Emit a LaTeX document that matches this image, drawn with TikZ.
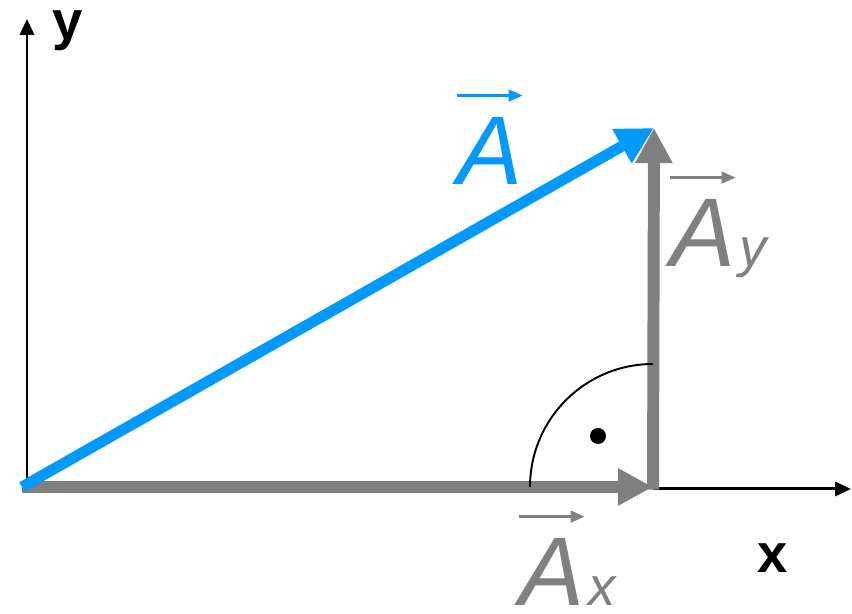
\documentclass[tikz,border=0pt]{standalone}
\usepackage{fontspec}
\setmainfont{Liberation Sans}
\usetikzlibrary{arrows.meta}
\definecolor{vblue}{HTML}{0099FF}
\definecolor{vgray}{HTML}{808080}
\tikzset{
 axis/.style={line width=1.7pt,-{Triangle[length=9pt,width=8pt]}},
 comp/.style={vgray,line width=6.8pt,-{Triangle[length=20pt,width=20pt]}},
 vecA/.style={vblue,line width=6.2pt,-{Triangle[length=21pt,width=21pt]}},
 bar/.style={line width=1.7pt,-{Triangle[length=8pt,width=6.5pt]}},
 big/.style={inner sep=0pt,anchor=base west,font=\fontsize{55.5}{60}\selectfont\itshape},
 sub/.style={inner sep=0pt,anchor=base west,font=\fontsize{31}{34}\selectfont\itshape},
 axlab/.style={inner sep=0pt,anchor=base,font=\fontsize{31}{34}\selectfont\bfseries}
}

\begin{document}
\begin{tikzpicture}[x=0.02cm,y=0.02cm]
\useasboundingbox (0,0) rectangle (852,614);
\coordinate (O) at (22,127);
\coordinate (C) at (653,127);
\coordinate (T) at (654,486);
\coordinate (ybot) at (27,125);
\coordinate (ytop) at (27,595);
\coordinate (xbot) at (653,125);
\coordinate (xtop) at (851,125);
% axes
\draw[axis] (ybot) -- (ytop);
\draw[axis] (xbot) -- (xtop);
% components and vector
\draw[comp] (O) -- (C);
\draw[comp] ([yshift=-1.5pt]C) -- (T);
\draw[vecA] (O) -- (T);
% right angle
\draw[line width=1.1pt] (C) ++(180:123) arc[start angle=180,end angle=90,radius=123];
\fill (598,178) circle[radius=8];
% labels
\node[big,vblue] (A) at (457,429) {A};
\draw[bar,vblue] ([yshift=12.5pt]A.north west) -- ([yshift=12.5pt]A.north east);
\node[big,vgray] (Ay) at (670,347) {A};
\node[sub,vgray] (ys) at ([xshift=2pt]Ay.base east) {y};
\draw[bar,vgray] ([yshift=12.5pt]Ay.north west) -- ([yshift=12.5pt]Ay.north east);
\node[big,vgray] (Ax) at (519,8) {A};
\node[sub,vgray] (xs) at ([xshift=2pt]Ax.base east) {x};
\draw[bar,vgray] ([yshift=12.5pt]Ax.north west) -- ([yshift=12.5pt]Ax.north east);
\node[axlab] (ylab) at (68,574) {y};
\node[axlab] (xlab) at (773,41) {x};
\end{tikzpicture}
\end{document}
